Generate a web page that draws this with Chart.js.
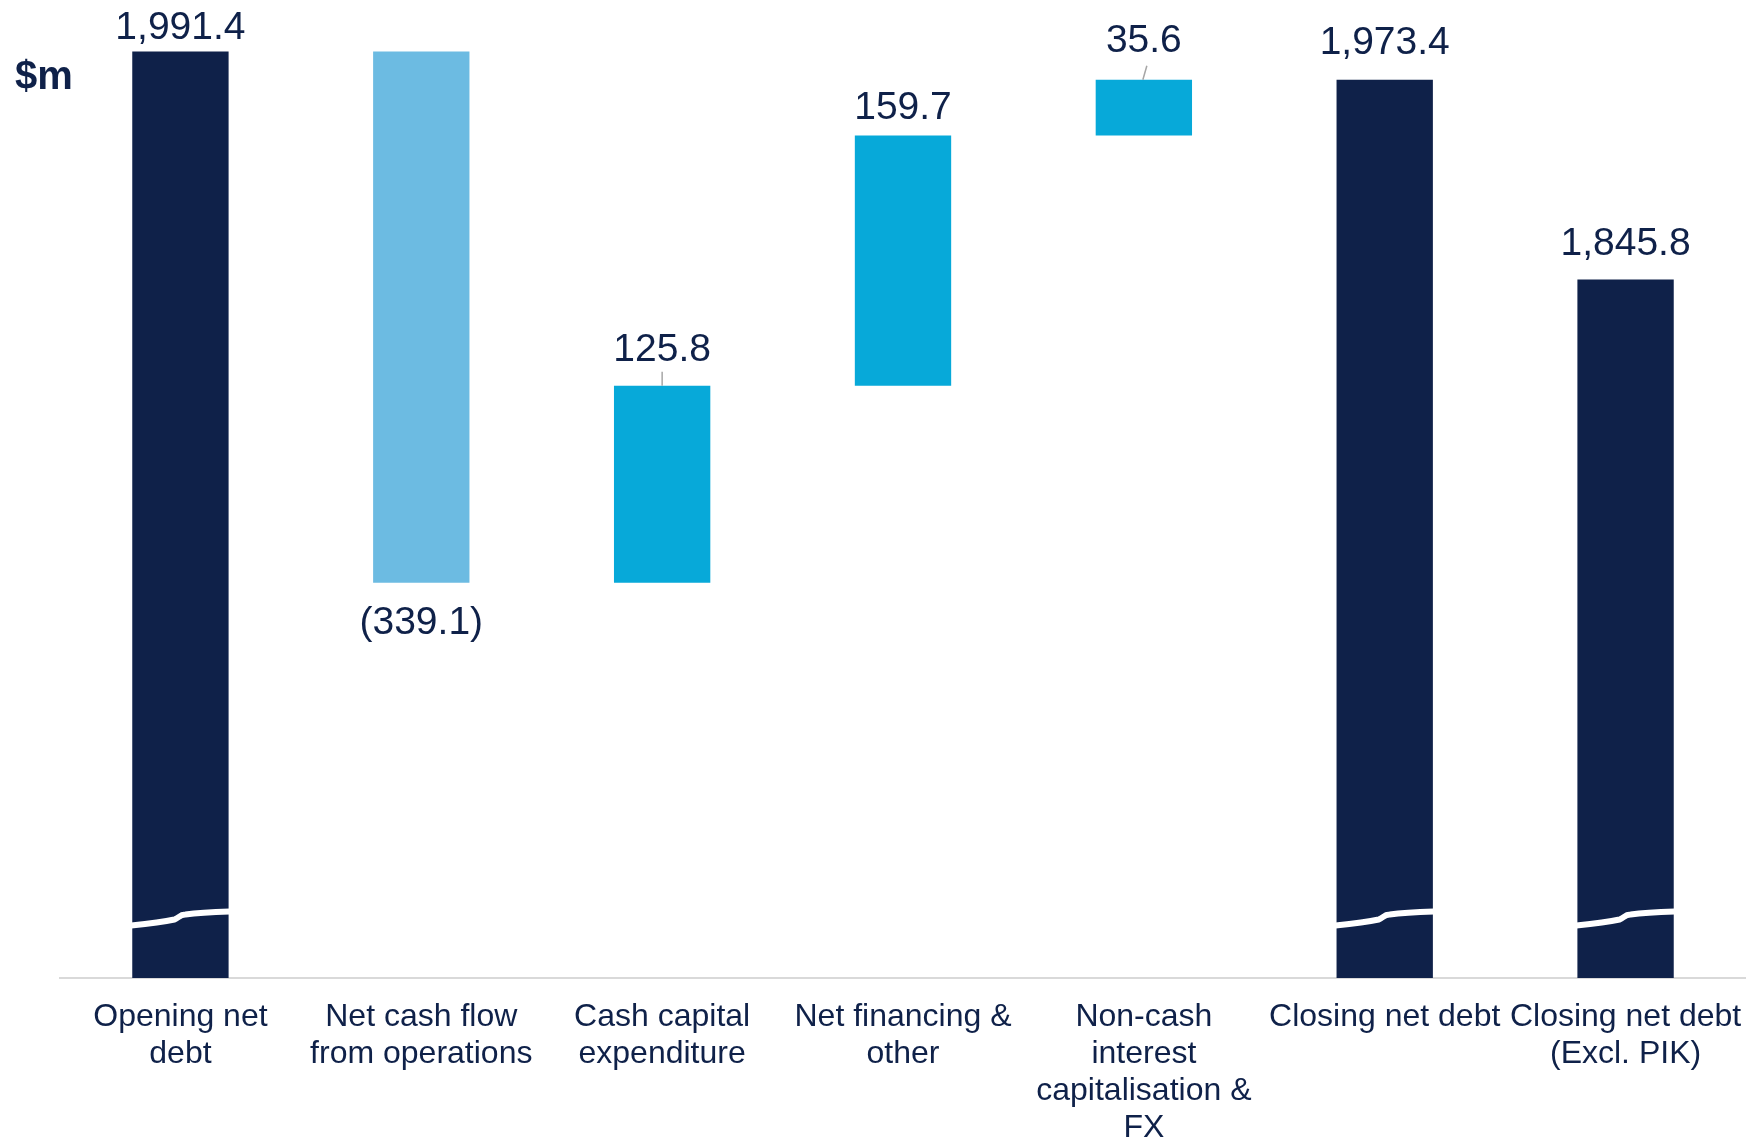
<!DOCTYPE html>
<html>
<head>
<meta charset="utf-8">
<script src="https://cdn.jsdelivr.net/npm/chart.js@4.4.1/dist/chart.umd.min.js"></script>
<style>
  html, body { margin: 0; padding: 0; background: #ffffff; overflow: hidden; }
  #wrap { position: relative; width: 1746px; height: 1141px; }
</style>
</head>
<body>
<div id="wrap"><canvas id="grafica"></canvas></div>
<script>
// categories (multi-line tick labels)
const categorias = [
  ['Opening net', 'debt'],
  ['Net cash flow', 'from operations'],
  ['Cash capital', 'expenditure'],
  ['Net financing &', 'other'],
  ['Non-cash', 'interest', 'capitalisation &', 'FX'],
  ['Closing net debt'],
  ['Closing net debt', '(Excl. PIK)']
];
// values shown on the chart ($m)
const valores = [1991.4, -339.1, 125.8, 159.7, 35.6, 1973.4, 1845.8];
// true = total bar from axis, false = step from running total
const esTotal = [true, false, false, false, false, true, true];
// broken axis starts here
const ejeMin = 1400;
const ejeMax = 2000;

const colores = ['#0f2149', '#6cbbe2', '#07a9d9', '#07a9d9', '#07a9d9', '#0f2149', '#0f2149'];
const azulTexto = '#0f2149';

// build floating bars [low, high]
let acumulado = 0;
const barras = valores.map(function(v, i) {
  if (esTotal[i]) {
    acumulado = v;
    return [ejeMin, v];
  }
  const inicio = acumulado;
  acumulado = acumulado + v;
  return [Math.min(inicio, acumulado), Math.max(inicio, acumulado)];
});

function formato(v) {
  const s = Math.abs(v).toLocaleString('en-US', { minimumFractionDigits: 1, maximumFractionDigits: 1 });
  return v < 0 ? '(' + s + ')' : s;
}

// gap between bar end and label centre
const separacion = [23, 41, 35, 27, 38, 36, 35];
const conGuia = [false, false, true, false, true, false, false];

const pluginEtiquetas = {
  id: 'etiquetas',
  afterDatasetsDraw(chart) {
    const ctx = chart.ctx;
    const meta = chart.getDatasetMeta(0);
    const yScale = chart.scales.y;
    ctx.save();

    // axis break marks on total bars
    const yCorte = yScale.getPixelForValue(1438);
    meta.data.forEach(function(bar, i) {
      if (!esTotal[i]) return;
      const cx = bar.x;
      const hw = bar.width / 2;
      ctx.beginPath();
      ctx.moveTo(cx - hw - 1, yCorte + 7);
      ctx.quadraticCurveTo(cx - 20, yCorte + 4, cx - 6, yCorte + 1);
      ctx.bezierCurveTo(cx - 2, yCorte, cx - 1, yCorte - 4, cx + 5, yCorte - 4);
      ctx.quadraticCurveTo(cx + 20, yCorte - 6, cx + hw + 1, yCorte - 7);
      ctx.strokeStyle = '#ffffff';
      ctx.lineWidth = 6;
      ctx.stroke();
    });

    // value labels
    ctx.font = '39px "Liberation Sans", Arial, sans-serif';
    ctx.fillStyle = azulTexto;
    ctx.textAlign = 'center';
    ctx.textBaseline = 'middle';
    meta.data.forEach(function(bar, i) {
      const props = bar.getProps(['x', 'y', 'base'], true);
      const arriba = Math.min(props.y, props.base);
      const abajo = Math.max(props.y, props.base);
      if (valores[i] < 0) {
        ctx.fillText(formato(valores[i]), props.x, abajo + separacion[i]);
      } else {
        ctx.fillText(formato(valores[i]), props.x, arriba - separacion[i]);
      }
      if (conGuia[i]) {
        ctx.beginPath();
        ctx.moveTo(props.x + (i === 4 ? 3 : 0), arriba - 14);
        ctx.lineTo(props.x - (i === 4 ? 1 : 0), arriba);
        ctx.strokeStyle = '#a6a6a6';
        ctx.lineWidth = 1.5;
        ctx.stroke();
      }
    });

    // unit label
    ctx.font = 'bold 40px "Liberation Sans", Arial, sans-serif';
    ctx.textAlign = 'left';
    ctx.fillText('$m', 15, 78);
    ctx.restore();
  }
};

const ctx = document.getElementById('grafica');

new Chart(ctx, {
  type: 'bar',
  data: {
    labels: categorias,
    datasets: [{
      label: 'Net debt',
      data: barras,
      backgroundColor: colores,
      borderWidth: 0,
      barPercentage: 0.4,
      categoryPercentage: 1.0
    }]
  },
  options: {
    responsive: true,
    maintainAspectRatio: false,
    animation: false,
    layout: { padding: { left: 60, right: 0, top: 38, bottom: 0 } },
    plugins: {
      legend: { display: false },
      tooltip: { enabled: false }
    },
    scales: {
      x: {
        grid: { display: false, drawTicks: false },
        border: { display: true, color: '#d9d9d9', width: 2 },
        ticks: {
          color: azulTexto,
          font: { family: '"Liberation Sans", Arial, sans-serif', size: 32, lineHeight: 1.15 },
          padding: 21,
          maxRotation: 0,
          minRotation: 0,
          autoSkip: false
        },
        afterFit: function(scale) {
          scale.height = 163;
          scale.paddingLeft = 0;
          scale.paddingRight = 0;
        }
      },
      y: {
        display: false,
        min: ejeMin,
        max: ejeMax
      }
    }
  },
  plugins: [pluginEtiquetas]
});
</script>
</body>
</html>
